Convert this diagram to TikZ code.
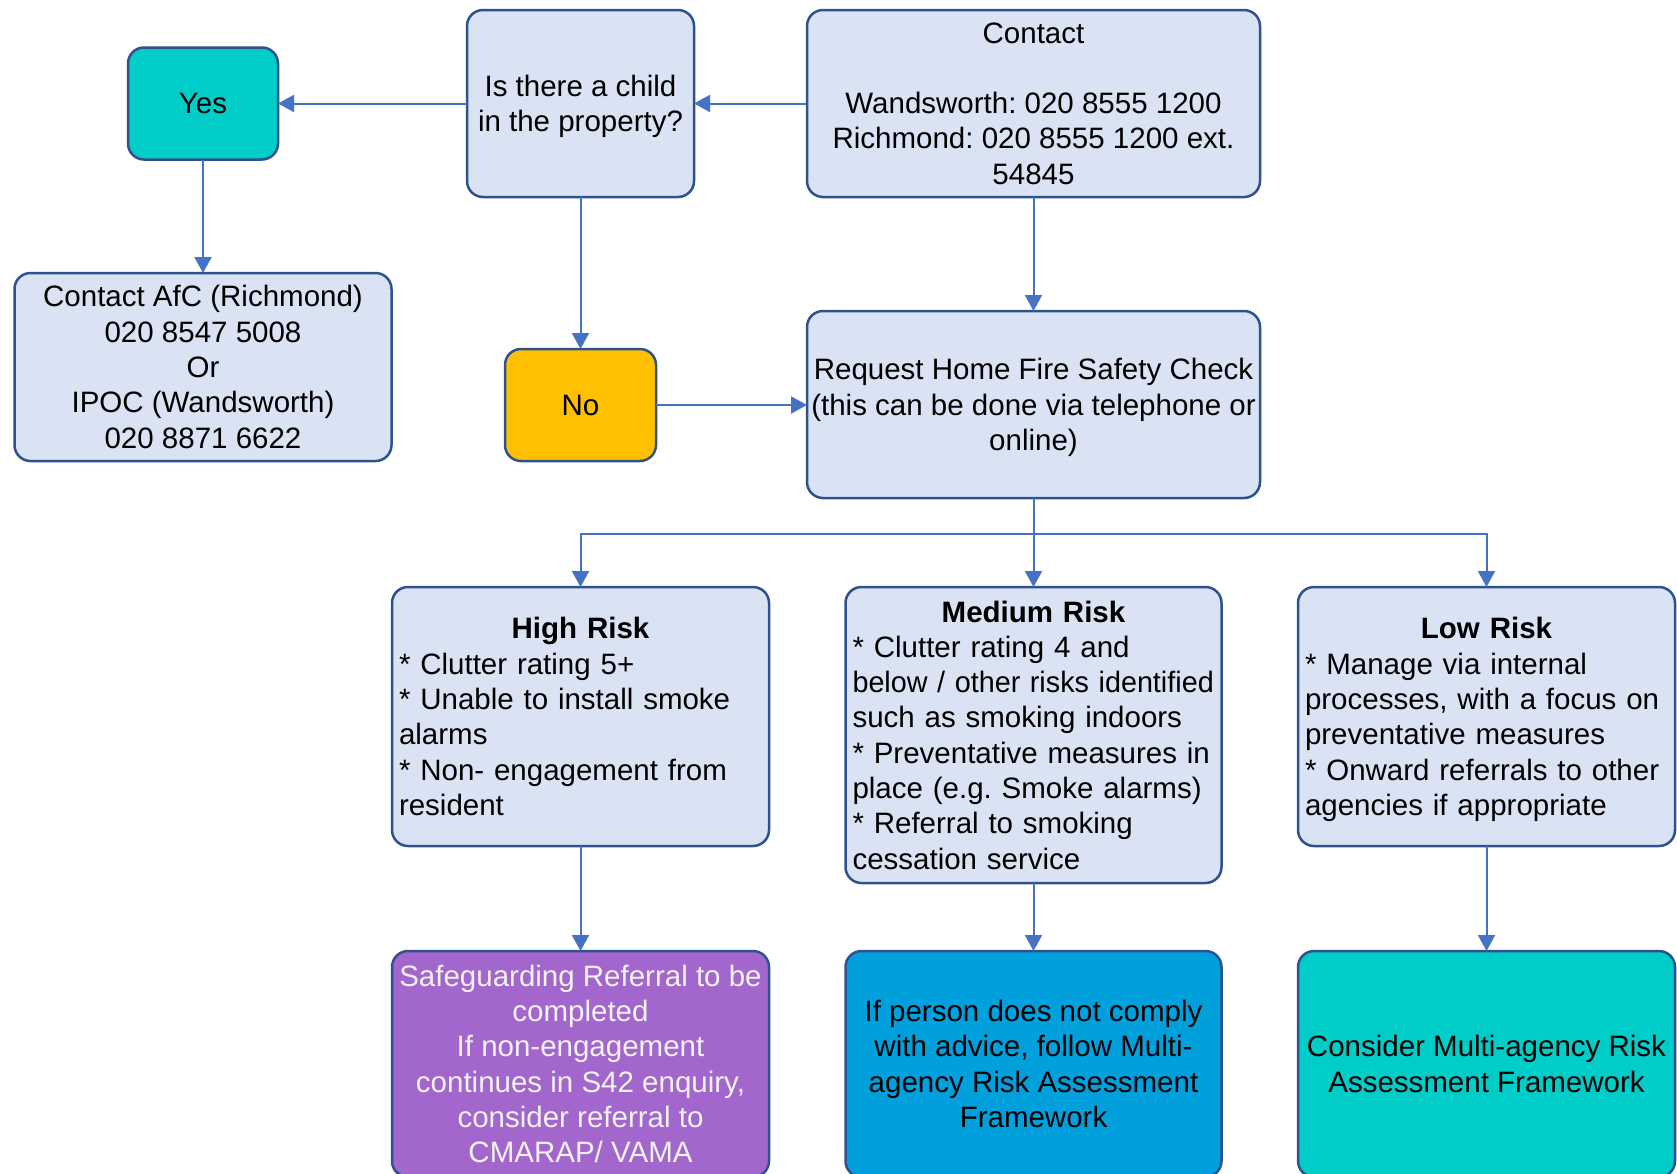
\documentclass[tikz,border=0pt]{standalone}
\usepackage{fontspec}
\usepackage{graphicx}
\setmainfont{Liberation Sans}
\usetikzlibrary{arrows.meta}
\definecolor{boxfill}{HTML}{DAE3F3}
\definecolor{boxline}{HTML}{2F528F}
\definecolor{arrcol}{HTML}{4472C4}
\definecolor{cteal}{HTML}{00CCC8}
\definecolor{cyel}{HTML}{FFC000}
\definecolor{cpurp}{HTML}{A366CC}
\definecolor{cblue}{HTML}{00A0DC}
\definecolor{lighttext}{HTML}{F2F2F2}
\frenchspacing
\hyphenpenalty=10000
\exhyphenpenalty=10000
\hfuzz=100pt
\newcommand\boxfont{\fontsize{29.5}{35.3}\selectfont}
\newcommand\nodp[1]{\raisebox{0pt}[\height][0pt]{#1}}
\begin{document}
\begin{tikzpicture}[x=1pt,y=-1pt,
  box/.style={draw=boxline, line width=2.5pt, rounded corners=16pt, fill=boxfill,
    inner sep=0pt, outer sep=0pt, align=center, font=\boxfont},
  wbox/.style={box, minimum width=453pt, minimum height=187pt},
  riskbox/.style={box, minimum width=377pt, align=left, inner xsep=7pt, text width=363pt},
  endbox/.style={box, minimum width=377pt, minimum height=226pt, align=center},
  arrow/.style={draw=arrcol, line width=2pt, -{Triangle[length=16pt,width=17pt]}}
]
\useasboundingbox (0,0) rectangle (1677,1173);

\node[box, fill=cteal, minimum width=150pt, minimum height=112pt] (yes) at (203,103.5) {Yes};
\node[box, minimum width=227pt, minimum height=187pt] (q) at (580.5,103.5) {Is there a child\\\nodp{in the property?}};
\node[wbox] (contact) at (1033.5,103.5) {Contact\\[35.3pt]Wandsworth: 020 8555 1200\\Richmond: 020 8555 1200 ext.\\54845};
\node[box, minimum width=377pt, minimum height=188pt] (afc) at (203,367) {Contact AfC (Richmond)\\020 8547 5008\\Or\\IPOC (Wandsworth)\\020 8871 6622};
\node[box, fill=cyel, minimum width=151pt, minimum height=112pt] (no) at (580.5,405) {No};
\node[wbox] (req) at (1033.5,404.5) {Request Home Fire Safety Check\\(this can be done via telephone or\\\nodp{online)}};

\node[riskbox, minimum height=259pt] (high) at (580.5,716.5) {\makebox[\linewidth]{\textbf{High Risk}}\\{*} Clutter rating 5+\\{*} Unable to install smoke\\alarms\\{*} Non- engagement from\\resident};
\node[riskbox, minimum height=296pt, minimum width=376pt, text width=362pt] (med) at (1033.5,735) {\makebox[\linewidth]{\textbf{Medium Risk}}\\{*} Clutter rating 4 and\\\scalebox{0.975}[1]{below / other risks identified}\\such as smoking indoors\\{*} Preventative measures in\\place (e.g. Smoke alarms)\\{*} Referral to smoking\\cessation service};
\node[riskbox, minimum height=259pt] (low) at (1486.5,716.5) {\makebox[\linewidth]{\textbf{Low Risk}}\\{*} Manage via internal\\processes, with a focus on\\preventative measures\\{*} Onward referrals to other\\\nodp{agencies if appropriate}};

\node[endbox, fill=cpurp, text=lighttext] (safe) at (580.5,1064) {Safeguarding Referral to be\\completed\\If non-engagement\\continues in S42 enquiry,\\consider referral to\\CMARAP/ VAMA};
\node[endbox, fill=cblue, minimum width=376pt] (blue) at (1033.5,1064) {If person does not comply\\with advice, follow Multi-\\agency Risk Assessment\\Framework};
\node[endbox, fill=cteal] (consider) at (1486.5,1064) {Consider Multi-agency Risk\\Assessment Framework};

\coordinate (split) at (1033.5,534);

\draw[arrow] (contact.west) -- (q.east);
\draw[arrow] (q.west) -- (yes.east);
\draw[arrow] (yes.south) -- (afc.north);
\draw[arrow] (q.south) -- (no.north);
\draw[arrow] (no.east) -- (req.west |- no.east);
\draw[arrow] (contact.south) -- (req.north);
\draw[arrow] (req.south) -- (med.north);
\draw[arrow] (split) -| (high.north);
\draw[arrow] (split) -| (low.north);
\draw[arrow] (high.south) -- (safe.north);
\draw[arrow] (med.south) -- (blue.north);
\draw[arrow] (low.south) -- (consider.north);
\end{tikzpicture}
\end{document}
